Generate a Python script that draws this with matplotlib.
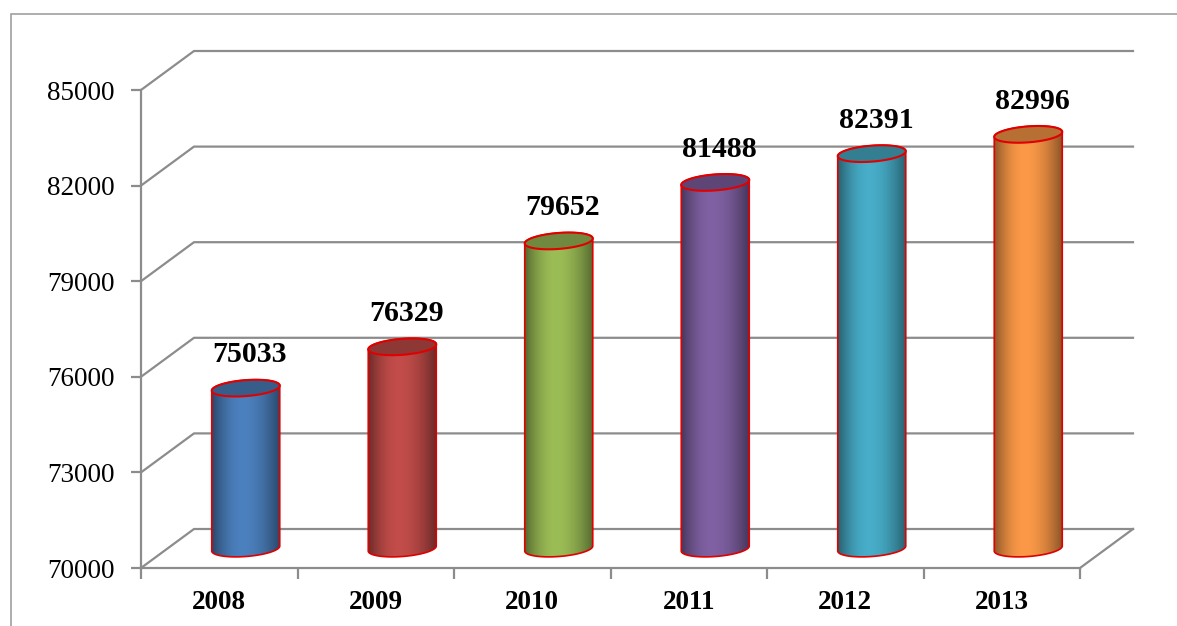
import numpy as np
import matplotlib
matplotlib.use('Agg')
import matplotlib.pyplot as plt
from matplotlib.patches import Polygon, Rectangle
from matplotlib.colors import to_rgb

years = ['2008', '2009', '2010', '2011', '2012', '2013']
values = [75033, 76329, 79652, 81488, 82391, 82996]
colors = ['#4a7ebb', '#be4b48', '#98b954', '#7d5fa0', '#46aac5', '#f79646']
yticks = [70000, 73000, 76000, 79000, 82000, 85000]

plt.rcParams['font.family'] = ['Liberation Serif', 'DejaVu Serif']

W, H = 1177, 626
fig = plt.figure(figsize=(W / 100, H / 100), dpi=100)
fig.patch.set_facecolor('white')

# outer chart border (only left and top edges fall inside the picture)
fig.patches.append(Rectangle((11 / W, -0.1), 1.2, (H - 14) / H + 0.1, transform=fig.transFigure,
                             fill=False, edgecolor='#a0a0a0', lw=1.2))

# front plane of the plot
ax = fig.add_axes([141 / W, (H - 568) / H, (1080 - 141) / W, (568 - 90) / H])
ax.set_xlim(0, 6)
ax.set_ylim(70000, 85000)
ax.set_facecolor('none')

grid_c = '#8c8c8c'
for s in ['top', 'right']:
    ax.spines[s].set_visible(False)
for s in ['left', 'bottom']:
    ax.spines[s].set_color(grid_c)
    ax.spines[s].set_linewidth(1.6)

ax.set_yticks(yticks)
ax.set_yticklabels([str(v) for v in yticks], fontsize=19.5)
ax.tick_params(axis='y', direction='out', length=7, width=1.6, color=grid_c, pad=12)
ax.set_xticks(range(7))
ax.set_xticklabels([])
ax.tick_params(axis='x', which='major', direction='out', length=8, width=1.6, color=grid_c)
ax.set_xticks(np.arange(6) + 0.5, minor=True)
ax.set_xticklabels(years, minor=True, fontsize=19.5, fontweight='bold')
ax.tick_params(axis='x', which='minor', length=0, pad=16)

# depth offset of the back wall, in data units
DX = 53 / 156.5
DY = 39 / 478 * 15000

for v in yticks:
    ax.plot([0, DX, 6 + DX], [v, v + DY, v + DY], color=grid_c, lw=1.6, clip_on=False, zorder=1)
ax.plot([6, 6 + DX], [70000, 70000 + DY], color=grid_c, lw=1.6, clip_on=False, zorder=1)

# cylinders, centred halfway into the depth
a = 68 / 156.5 / 2
b = 8 / 478 * 15000
k = 2.5 / 478 * 15000
base = 70000 + DY / 2
t = np.linspace(0, 2 * np.pi, 200)

# horizontal shading: dark rims, bright just left of centre
prof = np.linspace(0, 1, 300)
warp = np.where(prof < 0.45, prof / 0.45 * 0.5, 0.5 + (prof - 0.45) / 0.55 * 0.5)
shade = 0.56 + 0.46 * np.sin(np.pi * warp) ** 0.9

for i, (val, col) in enumerate(zip(values, colors)):
    cx = i + 0.5 + DX / 2
    top = val + DY / 2
    rgb = np.array(to_rgb(col))

    tb = np.linspace(np.pi, 2 * np.pi, 100)
    tt = np.linspace(0, np.pi, 100)
    bx = cx + a * np.cos(tb)
    by = base + b * np.sin(tb) + k * np.cos(tb)
    ux = cx + a * np.cos(tt)
    uy = top + b * np.sin(tt) + k * np.cos(tt)
    body = Polygon(np.column_stack([np.r_[bx, ux], np.r_[by, uy]]), closed=True,
                   facecolor='none', edgecolor='#e00000', lw=1.2, zorder=4, clip_on=False)
    ax.add_patch(body)

    grad = np.clip(shade[None, :, None] * rgb[None, None, :], 0, 1)
    im = ax.imshow(grad, extent=[cx - a, cx + a, base - b - k, top + b + k],
                   aspect='auto', zorder=3, interpolation='bilinear')
    im.set_clip_path(body)

    ex = cx + a * np.cos(t)
    ey = top + b * np.sin(t) + k * np.cos(t)
    ax.add_patch(Polygon(np.column_stack([ex, ey]), closed=True,
                         facecolor=rgb * 0.74, edgecolor='#e00000', lw=1.5, zorder=5, clip_on=False))

    ax.annotate(str(val), (cx, top), xytext=(3, 24), textcoords='offset points',
                ha='center', va='center', fontsize=21.5, fontweight='bold', zorder=6,
                annotation_clip=False)

ax.set_xlim(0, 6)
ax.set_ylim(70000, 85000)

fig.savefig('out.png', dpi=100)
